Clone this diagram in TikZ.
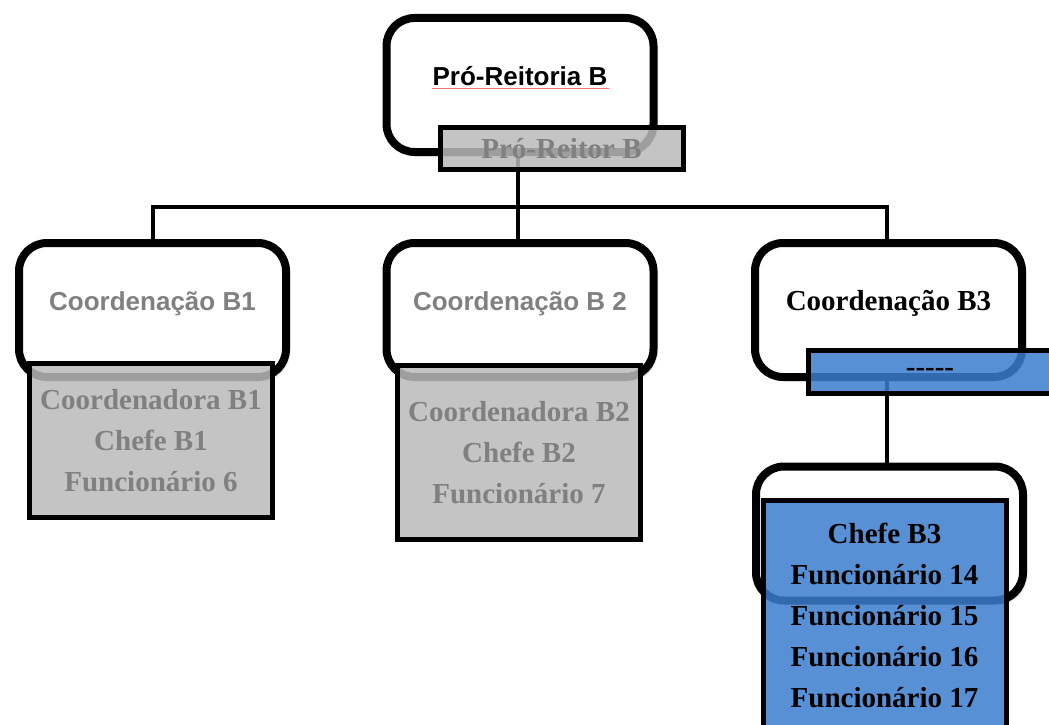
\documentclass[tikz,border=0pt]{standalone}
\usepackage{fontspec}
\setmainfont{Liberation Serif}
\setsansfont{Liberation Sans}
\usetikzlibrary{shadows.blur}

\definecolor{boxgray}{RGB}{186,186,186}
\definecolor{txtgray}{RGB}{128,128,128}
\definecolor{deptblue}{RGB}{59,125,207}
\definecolor{spellred}{RGB}{240,120,120}

\tikzset{
  unit/.style={draw=black, line width=8pt, rounded corners=28pt, fill=white,
    minimum width=267pt, minimum height=134pt, inner sep=0pt,
    text height=0pt, text depth=0pt,
    blur shadow={shadow xshift=3pt, shadow yshift=-3pt, shadow blur steps=6, shadow opacity=35}},
  sanslabel/.style={font=\sffamily\bfseries\fontsize{26}{30}\selectfont},
  seriflabel/.style={font=\bfseries\fontsize{29}{41}\selectfont},
  holder/.style={draw=black, line width=5pt, fill=boxgray, fill opacity=0.85,
    text opacity=1, minimum width=243pt, inner sep=0pt, align=center,
    text=txtgray, seriflabel},
  staff/.style={holder, fill=deptblue, text=black},
  link/.style={draw=black, line width=4pt}
}

\begin{document}
\begin{tikzpicture}[x=1pt, y=-1pt]
\useasboundingbox (0,0) rectangle (1049,725);

% connector junctions
\coordinate (bus) at (518,207);

% tree connectors, drawn beneath the boxes
\begin{scope}[link]
  \draw (518,86) -- (bus);
  \draw (153,244) |- (bus) -| (887,244);
  \draw (bus) -- (518,244);
  \draw (887,376) -- (887,466);
\end{scope}

% organisational units
\node[unit, sanslabel] (pr) at (520,85) {Pró-Reitoria B};
\node[unit, sanslabel, text=txtgray] (c1) at (152.5,310) {Coordenação B1};
\node[unit, sanslabel, text=txtgray] (c2) at (520,310) {Coordenação B 2};
\node[unit, seriflabel] (c3) at (888.5,310) {Coordenação B3};
\node[unit] (c4) at (889.5,533.5) {};

% spell-check underline under the top title
\draw[spellred, line width=0.7pt] ([xshift=-88pt, yshift=-3pt]pr.center) -- ([xshift=89pt, yshift=-3pt]pr.center);

% people attached to each unit
\node[holder, minimum height=42pt] (prr) at (561.5,148.5) {Pró-Reitor B};
\node[holder, minimum height=154pt] (g1) at (151,440.5)
  {Coordenadora B1\\Chefe B1\\Funcionário 6};
\node[holder, minimum height=174pt] (g2) at (519,452.5)
  {Coordenadora B2\\Chefe B2\\Funcionário 7};
\node[staff, minimum height=43pt] (b3) at (930,372) {-{}-{}-{}-{}-};
\node[staff, minimum height=230pt] (b4) at (884.5,615)
  {Chefe B3\\Funcionário 14\\Funcionário 15\\Funcionário 16\\Funcionário 17};
\end{tikzpicture}
\end{document}
